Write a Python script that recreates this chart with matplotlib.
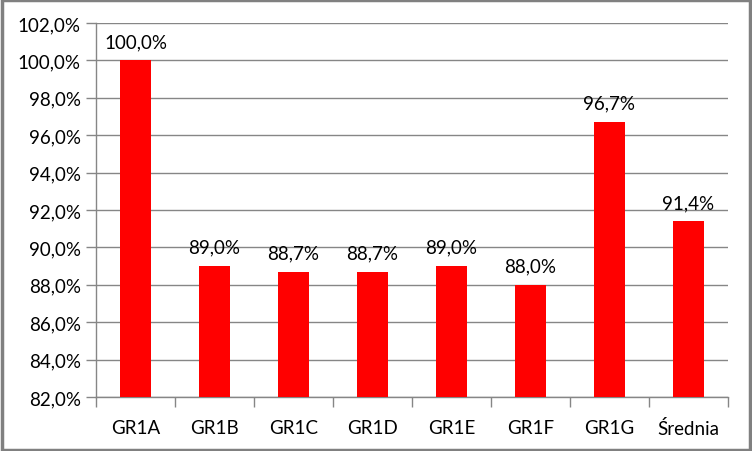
import matplotlib

matplotlib.use("Agg")
import matplotlib.pyplot as plt
from matplotlib.patches import Rectangle
from matplotlib.ticker import FixedLocator, FuncFormatter
import numpy as np

categories = ["GR1A", "GR1B", "GR1C", "GR1D", "GR1E", "GR1F", "GR1G", "Średnia"]
values = [100.0, 89.0, 88.7, 88.7, 89.0, 88.0, 96.7, 91.4]
y_ticks = [82, 84, 86, 88, 90, 92, 94, 96, 98, 100, 102]

plt.rcParams["font.family"] = ["Lato", "DejaVu Sans"]
GRID = "#868686"
FS = 13.5


def pct(v):
    return f"{v:.1f}".replace(".", ",") + "%"


fig = plt.figure(figsize=(7.52, 4.52), dpi=100)
ax = fig.add_axes([0.1277, 0.1195, 0.8403, 0.8275])

x = np.arange(len(categories))
ax.bar(x, np.array(values) - 82, bottom=82, width=0.39, color="#ff0000", zorder=3)

for xi, v in zip(x, values):
    ax.text(xi, v + 0.55, pct(v), ha="center", va="bottom", fontsize=FS, color="#000000")

ax.set_xlim(-0.5, len(categories) - 0.5)
ax.set_ylim(82, 102)
ax.set_yticks(y_ticks)
ax.yaxis.set_major_formatter(FuncFormatter(lambda v, _: pct(v)))
ax.set_xticks(x)
ax.set_xticklabels(categories)
ax.xaxis.set_minor_locator(FixedLocator(np.arange(-0.5, len(categories), 1.0)))
ax.tick_params(axis="x", which="major", length=0, labelsize=FS, pad=16)
ax.tick_params(axis="x", which="minor", length=7, color=GRID, width=1)
ax.tick_params(axis="y", length=7, color=GRID, width=1, labelsize=FS, pad=4)

ax.grid(axis="y", color=GRID, linewidth=1, zorder=0)
for side in ["top", "right"]:
    ax.spines[side].set_visible(False)
for side in ["left", "bottom"]:
    ax.spines[side].set_color(GRID)
    ax.spines[side].set_linewidth(1)

# outer chart border
fig.patches.append(Rectangle((0.002, 0.003), 0.996, 0.994, transform=fig.transFigure,
                             fill=False, edgecolor="#808080", linewidth=2.5))

fig.savefig("out.png", dpi=100)
